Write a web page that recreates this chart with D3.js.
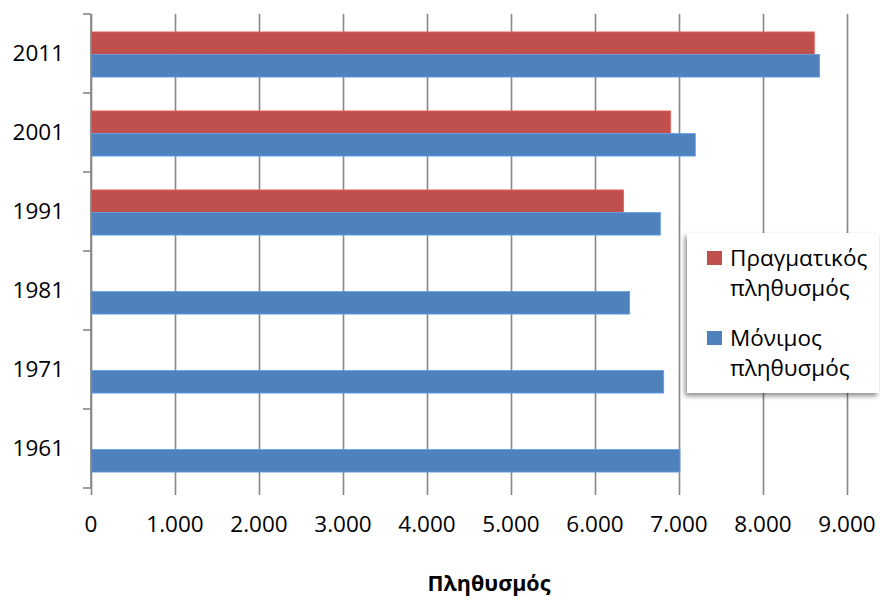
<!DOCTYPE html>
<html>
<head>
<meta charset="utf-8">
<script src="https://cdn.jsdelivr.net/npm/d3@7"></script>
<style>
  html, body { margin: 0; padding: 0; background: #fff; }
  svg { display: block; }
  text { font-family: "Open Sans", "Noto Sans", sans-serif; fill: #000; }
</style>
</head>
<body>
<div id="chart"></div>
<script>
// Census years, listed from the top of the chart down
const years = ["2011", "2001", "1991", "1981", "1971", "1961"];
// Πραγματικός (de facto) population per census year; no figure before 1991
const actualPop = [8611, 6901, 6341, null, null, null];
// Μόνιμος (resident) population per census year
const residentPop = [8674, 7194, 6778, 6413, 6818, 7012];
const seriesNames = ["Πραγματικός πληθυσμός", "Μόνιμος πληθυσμός"];
const seriesColors = ["#C0504D", "#4F81BD"];
const xTicks = [0, 1000, 2000, 3000, 4000, 5000, 6000, 7000, 8000, 9000];
const xTitle = "Πληθυσμός";

const W = 880, H = 601;
const plot = { left: 91, right: 847, top: 14, bottom: 488 };

const rows = years.map((y, i) => ({ year: y, values: [actualPop[i], residentPop[i]] }));

const svg = d3.select("#chart").append("svg")
  .attr("width", W).attr("height", H);

const defs = svg.append("defs");
const shadow = defs.append("filter").attr("id", "legendShadow")
  .attr("x", "-10%").attr("y", "-10%").attr("width", "130%").attr("height", "130%");
shadow.append("feGaussianBlur").attr("in", "SourceAlpha").attr("stdDeviation", 2.5);
shadow.append("feOffset").attr("dx", -2).attr("dy", 3).attr("result", "off");
shadow.append("feComponentTransfer").append("feFuncA").attr("type", "linear").attr("slope", 0.45);
const merge = shadow.append("feMerge");
merge.append("feMergeNode");
merge.append("feMergeNode").attr("in", "SourceGraphic");

const x = d3.scaleLinear().domain([0, 9000]).range([plot.left, plot.right]);
const y = d3.scaleBand().domain(years).range([plot.top, plot.bottom]).padding(0);
const groupH = y.bandwidth() / 1.75;
const gap = (y.bandwidth() - groupH) / 2;
const inner = d3.scaleBand().domain([0, 1]).range([gap + 1, gap + 1 + groupH]).padding(0);

// vertical gridlines, running a little below the axis as tick marks
svg.append("g")
  .attr("transform", `translate(0,${plot.bottom})`)
  .call(d3.axisBottom(x).tickValues(xTicks).tickSize(-(plot.bottom - plot.top)).tickFormat(""))
  .call(g => g.select(".domain").remove())
  .call(g => g.selectAll("line").attr("stroke", "#878787").attr("stroke-width", 1.6)
    .attr("y2", -(plot.bottom - plot.top)).attr("y1", 7));

// bars
const groups = svg.append("g").selectAll("g").data(rows).join("g")
  .attr("transform", d => `translate(0,${y(d.year)})`);
groups.selectAll("rect")
  .data(d => d.values.map((v, k) => ({ v, k })).filter(e => e.v != null))
  .join("rect")
  .attr("x", x(0))
  .attr("y", e => inner(e.k))
  .attr("width", e => x(e.v) - x(0))
  .attr("height", inner.bandwidth())
  .attr("fill", e => seriesColors[e.k])
  .attr("stroke", e => d3.color(seriesColors[e.k]).brighter(0.6))
  .attr("stroke-width", 0.8);

// category axis
const yAxis = svg.append("g")
  .attr("transform", `translate(${plot.left},0)`)
  .call(d3.axisLeft(y).tickSize(0).tickPadding(27))
  .call(g => g.select(".domain").remove());
yAxis.selectAll("text").attr("font-size", 22.5).attr("dy", "0.35em");
const boundaries = years.map(yr => y(yr)).concat([plot.bottom]);
svg.append("g").selectAll("line").data(boundaries).join("line")
  .attr("x1", plot.left - 8).attr("x2", plot.left)
  .attr("y1", d => d).attr("y2", d => d)
  .attr("stroke", "#878787").attr("stroke-width", 1.6);
svg.append("line")
  .attr("x1", plot.left).attr("x2", plot.left)
  .attr("y1", plot.top).attr("y2", plot.bottom)
  .attr("stroke", "#878787").attr("stroke-width", 1.6);

// value labels
const fmt = v => v === 0 ? "0" : d3.format(",")(v).replace(/,/g, ".");
svg.append("g").selectAll("text").data(xTicks).join("text")
  .attr("x", d => x(d)).attr("y", 524)
  .attr("dy", "0.35em")
  .attr("text-anchor", "middle")
  .attr("font-size", 22.5)
  .text(fmt);

// axis title
svg.append("text")
  .attr("x", 489).attr("y", 591)
  .attr("text-anchor", "middle")
  .attr("font-size", 21.5)
  .attr("font-weight", "bold")
  .text(xTitle);

// legend
const legend = svg.append("g").attr("transform", "translate(687,233)");
legend.append("rect")
  .attr("width", 192).attr("height", 160)
  .attr("fill", "#fff").attr("filter", "url(#legendShadow)");
const lineGap = 30;
const entryTops = [18, 98];
seriesNames.forEach((name, k) => {
  const top = entryTops[k];
  legend.append("rect")
    .attr("x", 20).attr("y", top).attr("width", 15).attr("height", 14)
    .attr("fill", seriesColors[k]);
  const words = name.split(" ");
  words.forEach((w, j) => {
    legend.append("text")
      .attr("x", 43).attr("y", top + 15 + j * lineGap)
      .attr("font-size", 22.5)
      .text(w);
  });
});
</script>
</body>
</html>
